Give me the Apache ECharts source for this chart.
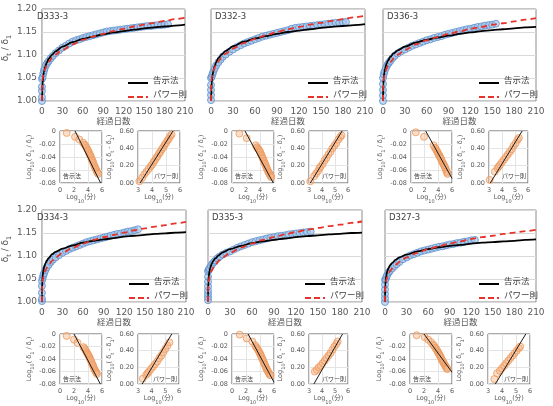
<!DOCTYPE html>
<html><head><meta charset="utf-8">
<script src="https://cdn.jsdelivr.net/npm/echarts/dist/echarts.min.js"></script>
<style>html,body{margin:0;padding:0;background:#fff}#c{width:553px;height:406px}</style>
</head><body><div id="c"></div>
<script>
// ---------- DATA ----------
const panelNames = ['D333-3','D332-3','D336-3','D334-3','D335-3','D327-3'];
const xTicksMain = [0,30,60,90,120,150,180,210];

// observed deflection ratio [days, δt/δ1]
const obsD333 = [[0,1.0],[0,1.008],[0,1.022],[0,1.031],[0,1.048],[1,1.052],[2,1.06],[3,1.066],[4,1.071],[6,1.078],[8,1.083],[10,1.087],[13,1.093],[16,1.098],[20,1.104],[25,1.11],[30,1.116],[35,1.12],[40,1.125],[45,1.129],[50,1.132],[55,1.134],[60,1.137],[65,1.139],[70,1.141],[75,1.143],[80,1.145],[85,1.147],[90,1.149],[95,1.151],[100,1.152],[105,1.153],[110,1.154],[115,1.155],[120,1.156],[125,1.157],[130,1.158],[135,1.159],[140,1.16],[145,1.161],[150,1.162],[155,1.163],[160,1.163],[165,1.164],[170,1.165],[175,1.165],[180,1.166],[185,1.167]];
const obsD332 = [[0,1.002],[0,1.013],[0,1.024],[0,1.035],[0,1.05],[1,1.053],[2,1.058],[3,1.063],[5,1.07],[7,1.077],[10,1.084],[13,1.09],[16,1.096],[20,1.101],[25,1.107],[30,1.112],[35,1.117],[40,1.121],[45,1.125],[50,1.128],[55,1.131],[60,1.134],[65,1.137],[70,1.14],[75,1.142],[80,1.144],[85,1.146],[90,1.148],[95,1.15],[100,1.152],[105,1.154],[110,1.157],[115,1.159],[120,1.16],[125,1.161],[130,1.162],[135,1.163],[140,1.164],[145,1.165],[150,1.166],[155,1.167],[160,1.168],[165,1.169],[170,1.17],[175,1.17],[180,1.171],[184,1.172]];
const obsD336 = [[0,1.0],[0,1.012],[0,1.024],[0,1.037],[0,1.05],[1,1.058],[2,1.064],[4,1.072],[6,1.078],[8,1.083],[10,1.087],[13,1.093],[16,1.098],[20,1.103],[25,1.108],[30,1.112],[35,1.116],[40,1.12],[45,1.123],[50,1.126],[55,1.129],[60,1.132],[65,1.134],[70,1.137],[75,1.139],[80,1.141],[85,1.144],[90,1.146],[95,1.148],[100,1.15],[105,1.152],[110,1.154],[115,1.156],[120,1.157],[125,1.159],[130,1.161],[135,1.162],[140,1.164],[145,1.165],[150,1.166],[155,1.168]];
const obsD334 = [[0,1.002],[0,1.007],[0,1.02],[0,1.035],[0,1.046],[1,1.052],[2,1.058],[3,1.062],[5,1.069],[7,1.075],[10,1.081],[13,1.087],[16,1.092],[20,1.097],[25,1.102],[30,1.107],[35,1.111],[40,1.115],[45,1.118],[50,1.121],[55,1.124],[60,1.127],[65,1.13],[70,1.132],[75,1.134],[80,1.136],[85,1.138],[90,1.14],[95,1.142],[100,1.144],[105,1.146],[110,1.148],[115,1.149],[120,1.151],[125,1.153],[130,1.154],[135,1.156],[140,1.158]];
const obsD335 = [[0,1.004],[0,1.011],[0,1.018],[0,1.025],[0,1.034],[0,1.044],[0,1.055],[0,1.067],[1,1.07],[2,1.073],[4,1.078],[6,1.083],[8,1.087],[10,1.09],[13,1.095],[16,1.099],[20,1.103],[25,1.107],[30,1.11],[35,1.114],[40,1.118],[45,1.121],[50,1.124],[55,1.127],[60,1.13],[65,1.132],[70,1.134],[75,1.136],[80,1.138],[85,1.14],[90,1.141],[95,1.143],[100,1.144],[105,1.145],[110,1.147],[115,1.148],[120,1.149],[125,1.15],[130,1.151],[135,1.152],[140,1.153]];
const obsD327 = [[0,1.0],[0,1.008],[0,1.017],[0,1.027],[0,1.038],[0,1.048],[1,1.05],[2,1.055],[3,1.058],[5,1.064],[7,1.068],[10,1.073],[13,1.078],[16,1.082],[20,1.087],[25,1.093],[30,1.097],[35,1.101],[40,1.104],[45,1.107],[50,1.11],[55,1.112],[60,1.114],[65,1.116],[70,1.118],[75,1.12],[80,1.121],[85,1.123],[90,1.125],[95,1.126],[100,1.128],[105,1.129],[110,1.131],[115,1.132],[120,1.134],[125,1.135]];

// 告示法 fitted curve [days, δt/δ1]
const kokujiD333 = [[0.15,1.0],[0.5,1.023],[1,1.039],[2,1.055],[3,1.064],[5,1.076],[7,1.083],[10,1.092],[15,1.101],[20,1.108],[30,1.118],[45,1.128],[60,1.135],[75,1.14],[90,1.145],[105,1.149],[120,1.152],[135,1.155],[150,1.158],[165,1.16],[180,1.162],[195,1.164],[210,1.166]];
const kokujiD332 = [[0.15,1.0],[0.5,1.024],[1,1.04],[2,1.055],[3,1.064],[5,1.076],[7,1.084],[10,1.093],[15,1.102],[20,1.109],[30,1.119],[45,1.129],[60,1.136],[75,1.141],[90,1.146],[105,1.15],[120,1.153],[135,1.156],[150,1.159],[165,1.161],[180,1.163],[195,1.165],[210,1.167]];
const kokujiD336 = [[0.07,1.0],[0.1,1.006],[0.5,1.037],[1,1.05],[2,1.063],[3,1.071],[5,1.082],[7,1.088],[10,1.096],[15,1.104],[20,1.11],[30,1.118],[45,1.127],[60,1.133],[75,1.138],[90,1.142],[105,1.146],[120,1.149],[135,1.152],[150,1.154],[165,1.156],[180,1.158],[195,1.16],[210,1.161]];
const kokujiD334 = [[0.035,1.0],[0.1,1.017],[0.5,1.044],[1,1.056],[2,1.068],[3,1.075],[5,1.084],[7,1.09],[10,1.096],[15,1.104],[20,1.109],[30,1.116],[45,1.123],[60,1.129],[75,1.133],[90,1.136],[105,1.139],[120,1.142],[135,1.144],[150,1.146],[165,1.148],[180,1.149],[195,1.151],[210,1.152]];
const kokujiD335 = [[0.035,1.0],[0.1,1.016],[0.5,1.043],[1,1.055],[2,1.067],[3,1.074],[5,1.083],[7,1.089],[10,1.095],[15,1.102],[20,1.108],[30,1.115],[45,1.122],[60,1.128],[75,1.132],[90,1.135],[105,1.138],[120,1.141],[135,1.143],[150,1.145],[165,1.147],[180,1.148],[195,1.15],[210,1.151]];
const kokujiD327 = [[0.043,1.0],[0.1,1.013],[0.5,1.038],[1,1.048],[2,1.059],[3,1.066],[5,1.074],[7,1.08],[10,1.085],[15,1.092],[20,1.097],[30,1.103],[45,1.11],[60,1.115],[75,1.119],[90,1.122],[105,1.124],[120,1.127],[135,1.129],[150,1.13],[165,1.132],[180,1.133],[195,1.135],[210,1.136]];

// パワー則 fitted curve [days, δt/δ1]
const powerD333 = [[0,1.0],[0.1,1.027],[0.5,1.04],[1,1.048],[2,1.057],[3,1.063],[5,1.071],[7,1.077],[10,1.085],[15,1.094],[20,1.101],[30,1.111],[45,1.123],[60,1.133],[75,1.14],[90,1.146],[105,1.152],[120,1.157],[135,1.162],[150,1.166],[165,1.17],[180,1.174],[195,1.178],[210,1.181]];
const powerD332 = [[0,1.0],[0.1,1.027],[0.5,1.041],[1,1.049],[2,1.058],[3,1.064],[5,1.073],[7,1.079],[10,1.086],[15,1.096],[20,1.103],[30,1.114],[45,1.126],[60,1.135],[75,1.143],[90,1.15],[105,1.156],[120,1.161],[135,1.166],[150,1.17],[165,1.174],[180,1.178],[195,1.182],[210,1.185]];
const powerD336 = [[0,1.0],[0.1,1.027],[0.5,1.04],[1,1.047],[2,1.056],[3,1.062],[5,1.071],[7,1.077],[10,1.084],[15,1.093],[20,1.1],[30,1.111],[45,1.123],[60,1.132],[75,1.139],[90,1.146],[105,1.151],[120,1.157],[135,1.161],[150,1.166],[165,1.169],[180,1.173],[195,1.177],[210,1.18]];
const powerD334 = [[0,1.0],[0.1,1.026],[0.5,1.038],[1,1.046],[2,1.054],[3,1.06],[5,1.068],[7,1.074],[10,1.081],[15,1.09],[20,1.097],[30,1.107],[45,1.118],[60,1.127],[75,1.135],[90,1.141],[105,1.146],[120,1.151],[135,1.156],[150,1.16],[165,1.164],[180,1.167],[195,1.171],[210,1.174]];
const powerD335 = [[0,1.0],[0.1,1.026],[0.5,1.038],[1,1.046],[2,1.054],[3,1.06],[5,1.068],[7,1.074],[10,1.081],[15,1.09],[20,1.097],[30,1.107],[45,1.118],[60,1.127],[75,1.135],[90,1.141],[105,1.147],[120,1.152],[135,1.157],[150,1.161],[165,1.165],[180,1.168],[195,1.172],[210,1.175]];
const powerD327 = [[0,1.0],[0.1,1.023],[0.5,1.035],[1,1.041],[2,1.049],[3,1.054],[5,1.062],[7,1.067],[10,1.073],[15,1.081],[20,1.087],[30,1.097],[45,1.107],[60,1.115],[75,1.121],[90,1.127],[105,1.132],[120,1.137],[135,1.141],[150,1.144],[165,1.148],[180,1.151],[195,1.154],[210,1.157]];

// small panels: 告示法 check  [Log10(min), Log10(δ1/δt)]
const kLogD333 = [[0.95,-0.003],[2.15,-0.009],[2.75,-0.013],[3.3,-0.018],[3.5,-0.021],[3.65,-0.023],[3.8,-0.026],[3.95,-0.029],[4.05,-0.031],[4.15,-0.034],[4.25,-0.036],[4.35,-0.038],[4.45,-0.041],[4.55,-0.044],[4.65,-0.046],[4.75,-0.049],[4.85,-0.052],[4.95,-0.055],[5.05,-0.057],[5.15,-0.059],[5.25,-0.062],[5.35,-0.064],[5.45,-0.066]];
const kLogD332 = [[1.05,-0.004],[2.1,-0.011],[3.4,-0.022],[3.55,-0.025],[3.7,-0.027],[3.85,-0.029],[3.95,-0.031],[4.05,-0.033],[4.15,-0.036],[4.25,-0.038],[4.35,-0.041],[4.45,-0.043],[4.55,-0.046],[4.65,-0.049],[4.75,-0.051],[4.85,-0.054],[4.95,-0.057],[5.05,-0.059],[5.15,-0.062],[5.25,-0.064],[5.35,-0.066],[5.45,-0.068],[5.55,-0.07],[5.62,-0.071]];
const kLogD336 = [[0.7,-0.002],[1.9,-0.009],[3.3,-0.022],[3.5,-0.026],[3.65,-0.028],[3.8,-0.031],[3.9,-0.033],[4.0,-0.035],[4.1,-0.037],[4.2,-0.039],[4.3,-0.041],[4.4,-0.043],[4.5,-0.046],[4.6,-0.048],[4.7,-0.05],[4.8,-0.052],[4.9,-0.054],[5.0,-0.056],[5.1,-0.059],[5.2,-0.062],[5.3,-0.064],[5.35,-0.066]];
const kLogD334 = [[0.95,-0.003],[2.0,-0.009],[2.5,-0.014],[3.35,-0.021],[3.5,-0.023],[3.65,-0.026],[3.8,-0.029],[3.9,-0.031],[4.0,-0.033],[4.1,-0.035],[4.2,-0.037],[4.3,-0.04],[4.4,-0.042],[4.5,-0.045],[4.6,-0.048],[4.7,-0.05],[4.8,-0.053],[4.9,-0.056],[5.0,-0.058],[5.1,-0.06],[5.2,-0.062],[5.28,-0.064]];
const kLogD335 = [[1.1,-0.001],[2.1,-0.007],[2.9,-0.012],[3.3,-0.018],[3.45,-0.021],[3.6,-0.023],[3.75,-0.026],[3.9,-0.029],[4.0,-0.031],[4.1,-0.034],[4.2,-0.036],[4.3,-0.039],[4.4,-0.041],[4.5,-0.044],[4.6,-0.047],[4.7,-0.049],[4.8,-0.052],[4.9,-0.055],[5.0,-0.057],[5.1,-0.059],[5.2,-0.061],[5.3,-0.063],[5.4,-0.065],[5.5,-0.066]];
const kLogD327 = [[0.95,-0.002],[2.1,-0.005],[2.6,-0.009],[3.0,-0.013],[3.3,-0.017],[3.45,-0.019],[3.6,-0.022],[3.75,-0.024],[3.9,-0.027],[4.0,-0.029],[4.1,-0.031],[4.2,-0.033],[4.3,-0.035],[4.4,-0.037],[4.5,-0.04],[4.6,-0.042],[4.7,-0.044],[4.8,-0.046],[4.9,-0.048],[5.0,-0.05],[5.1,-0.052],[5.2,-0.054],[5.3,-0.055],[5.35,-0.056]];
const kFitD333 = [[2.15,0],[5.8,-0.08]];
const kFitD332 = [[1.85,0],[5.9,-0.08]];
const kFitD336 = [[2.15,0],[6,-0.073]];
const kFitD334 = [[2.0,0],[5.77,-0.08]];
const kFitD335 = [[2.3,0],[6,-0.077]];
const kFitD327 = [[2.0,0],[6,-0.061]];

// small panels: パワー則 check  [Log10(min), Log10(δt-δ1)]
const pLogD333 = [[3.1,0.02],[3.3,0.06],[3.45,0.1],[3.6,0.13],[3.75,0.16],[3.9,0.19],[4.0,0.21],[4.1,0.24],[4.2,0.26],[4.3,0.29],[4.4,0.31],[4.5,0.34],[4.6,0.36],[4.7,0.39],[4.8,0.41],[4.9,0.44],[5.0,0.46],[5.1,0.49],[5.2,0.51],[5.3,0.54],[5.4,0.56]];
const pLogD332 = [[3.1,0.02],[3.4,0.08],[3.55,0.11],[3.7,0.14],[3.8,0.17],[3.9,0.19],[4.05,0.22],[4.2,0.26],[4.35,0.29],[4.5,0.33],[4.65,0.36],[4.8,0.4],[4.95,0.43],[5.1,0.46],[5.25,0.5],[5.4,0.53],[5.5,0.55]];
const pLogD336 = [[3.05,0.035],[3.45,0.13],[3.65,0.17],[3.75,0.19],[3.85,0.21],[4.0,0.24],[4.15,0.27],[4.3,0.3],[4.45,0.33],[4.6,0.36],[4.75,0.39],[4.9,0.43],[5.05,0.46],[5.2,0.5],[5.3,0.52]];
const pLogD334 = [[3.35,0.065],[3.6,0.11],[3.7,0.13],[3.8,0.15],[3.95,0.18],[4.1,0.21],[4.25,0.24],[4.4,0.27],[4.55,0.31],[4.7,0.34],[4.85,0.38],[5.0,0.42],[5.15,0.46],[5.3,0.5]];
const pLogD335 = [[3.45,0.15],[3.6,0.17],[3.75,0.2],[3.9,0.22],[4.05,0.25],[4.2,0.28],[4.35,0.31],[4.5,0.34],[4.65,0.37],[4.8,0.41],[4.95,0.45],[5.1,0.48],[5.2,0.51]];
const pLogD327 = [[3.45,0.06],[3.65,0.13],[3.85,0.16],[4.0,0.19],[4.15,0.22],[4.3,0.25],[4.45,0.28],[4.6,0.31],[4.75,0.34],[4.9,0.37],[5.05,0.4],[5.2,0.43],[5.3,0.45]];
const pFitD333 = [[3.15,0],[5.5,0.6]];
const pFitD332 = [[3.1,0],[5.55,0.6]];
const pFitD336 = [[3.1,0],[5.55,0.6]];
const pFitD334 = [[3.3,0],[5.47,0.6]];
const pFitD335 = [[3.37,0],[5.58,0.6]];
const pFitD327 = [[3.52,0],[5.7,0.6]];

// ---------- LAYOUT / STYLE ----------
const obsAll = [obsD333,obsD332,obsD336,obsD334,obsD335,obsD327];
const kokujiAll = [kokujiD333,kokujiD332,kokujiD336,kokujiD334,kokujiD335,kokujiD327];
const powerAll = [powerD333,powerD332,powerD336,powerD334,powerD335,powerD327];
const kLogAll = [kLogD333,kLogD332,kLogD336,kLogD334,kLogD335,kLogD327];
const kFitAll = [kFitD333,kFitD332,kFitD336,kFitD334,kFitD335,kFitD327];
const pLogAll = [pLogD333,pLogD332,pLogD336,pLogD334,pLogD335,pLogD327];
const pFitAll = [pFitD333,pFitD332,pFitD336,pFitD334,pFitD335,pFitD327];

const mainBox = [[33,9,152,92],[211,9,154,92],[383,9,153,92],[33,210,153,92],[208,210,154,92],[385,210,151,92]];
const boxL = [[60,131,42,52],[232,131,42,52],[411,131,41,52],[60,334,42,52],[232,334,42,52],[410,334,42,52]];
const boxR = [[138,131,42,52],[309,131,39,52],[489,131,39,52],[138,334,41,52],[309,334,39,52],[488,334,42,52]];

const FONT = "'DejaVu Sans','Noto Sans CJK JP',sans-serif";
const LBL = '#595959';
const BLACK_LINE = '#000000';
const RED_LINE = '#e8332b';
function richSub(n, s) {
  return {
    n: {fontSize: n, fontFamily: FONT, color: LBL, lineHeight: n + 3, verticalAlign: 'top'},
    s: {fontSize: s, fontFamily: FONT, color: LBL, lineHeight: s, verticalAlign: 'bottom'}
  };
}

const grids = [], xAxes = [], yAxes = [], series = [], graphics = [];

function addGrid(b, border) {
  grids.push({left: b[0], top: b[1], width: b[2], height: b[3], show: true,
    borderColor: border, borderWidth: 1, backgroundColor: 'transparent'});
  return grids.length - 1;
}

const orangeDot = {color: 'rgba(245,180,135,0.55)', borderColor: '#ee9a5c', borderWidth: 1};

for (let p = 0; p < 6; p++) {
  const b = mainBox[p];
  const gi = addGrid(b, '#8c8c8c');
  xAxes.push({gridIndex: gi, type: 'value', min: xTicksMain[0], max: xTicksMain[xTicksMain.length - 1], interval: 30,
    axisLine: {show: false}, axisTick: {show: false}, splitLine: {show: false},
    axisLabel: {fontSize: 9, color: LBL, margin: 6, fontFamily: FONT},
    name: '経過日数', nameLocation: 'middle', nameGap: 17,
    nameTextStyle: {fontSize: 8.5, color: LBL, fontFamily: FONT}});
  yAxes.push({gridIndex: gi, type: 'value', min: 1, max: 1.2, interval: 0.05,
    axisLine: {show: false}, axisTick: {show: false},
    splitLine: {show: true, lineStyle: {color: '#d9d9d9', width: 1}},
    axisLabel: {show: p % 3 === 0, fontSize: 9, color: LBL, margin: 5, fontFamily: FONT, formatter: v => v.toFixed(2)},
    name: p % 3 === 0 ? '{n|δ}{s|t}{n| / δ}{s|1}' : '', nameLocation: 'middle', nameGap: 23,
    nameTextStyle: {rich: richSub(9, 6.5), padding: [0, 0, 0, 14]}});
  series.push({type: 'scatter', xAxisIndex: gi, yAxisIndex: gi, data: obsAll[p], symbolSize: 7, z: 2,
    itemStyle: {color: 'rgba(163,196,232,0.85)', borderColor: '#5d8fcc', borderWidth: 1}, silent: true});
  series.push({type: 'line', name: '告示法', xAxisIndex: gi, yAxisIndex: gi, data: kokujiAll[p], symbol: 'none',
    smooth: 0.3, smoothMonotone: 'x', z: 4, lineStyle: {color: BLACK_LINE, width: 1.8}});
  series.push({type: 'line', name: 'パワー則', xAxisIndex: gi, yAxisIndex: gi, data: powerAll[p], symbol: 'none',
    smooth: 0.3, smoothMonotone: 'x', z: 5, lineStyle: {color: RED_LINE, width: 1.8, type: [6, 4]}});

  // legend (drawn as graphic keys)
  const lx = b[0] + b[2] - 57, ly = b[1] + 74;
  graphics.push({type: 'line', z: 100, shape: {x1: lx, y1: ly, x2: lx + 20, y2: ly},
    style: {stroke: BLACK_LINE, lineWidth: 2}});
  graphics.push({type: 'text', z: 100, left: lx + 25, top: ly - 6,
    style: {text: '告示法', fontSize: 8.5, fontFamily: FONT, fill: '#404040'}});
  graphics.push({type: 'line', z: 100, shape: {x1: lx, y1: ly + 14, x2: lx + 20, y2: ly + 14},
    style: {stroke: RED_LINE, lineWidth: 2, lineDash: [6, 3]}});
  graphics.push({type: 'text', z: 100, left: lx + 25, top: ly + 8,
    style: {text: 'パワー則', fontSize: 8.5, fontFamily: FONT, fill: '#404040'}});
  graphics.push({type: 'text', left: b[0] + 4, top: b[1] + 4, z: 100,
    style: {text: panelNames[p], fontSize: 8.5, fontFamily: FONT, fill: '#404040'}});

  // small left: 告示法
  const L = boxL[p];
  const li = addGrid(L, '#595959');
  xAxes.push({gridIndex: li, type: 'value', min: 0, max: 6, interval: 2,
    axisLine: {show: false}, axisTick: {show: false},
    splitLine: {show: true, lineStyle: {color: '#e4e4e4'}},
    axisLabel: {fontSize: 6.5, color: LBL, margin: 4, fontFamily: FONT},
    name: '{n|Log}{s|10}{n|(分)}', nameLocation: 'middle', nameGap: 11,
    nameTextStyle: {rich: richSub(6.5, 5)}});
  yAxes.push({gridIndex: li, type: 'value', min: -0.08, max: 0, interval: 0.02,
    axisLine: {show: false}, axisTick: {show: false},
    splitLine: {show: true, lineStyle: {color: '#e4e4e4'}},
    axisLabel: {fontSize: 6.5, color: LBL, margin: 4, fontFamily: FONT,
      formatter: v => Math.abs(v) < 1e-9 ? '0' : v.toFixed(2)},
    name: '{n|Log}{s|10}{n|( δ}{s|1}{n| / δ}{s|t}{n|)}', nameLocation: 'middle', nameGap: 20,
    nameTextStyle: {rich: richSub(6.5, 5)}});
  series.push({type: 'scatter', xAxisIndex: li, yAxisIndex: li, data: kLogAll[p], symbolSize: 7, z: 2, silent: true,
    itemStyle: orangeDot});
  series.push({type: 'line', xAxisIndex: li, yAxisIndex: li, data: kFitAll[p], symbol: 'none', z: 4, silent: true,
    lineStyle: {color: '#1a1a1a', width: 1}});
  graphics.push({type: 'text', left: L[0] + 3, top: L[1] + L[3] - 10, z: 100,
    style: {text: '告示法', fontSize: 6, fontFamily: FONT, fill: '#404040'}});

  // small right: パワー則
  const R = boxR[p];
  const ri = addGrid(R, '#595959');
  xAxes.push({gridIndex: ri, type: 'value', min: 3, max: 6, interval: 1,
    axisLine: {show: false}, axisTick: {show: false},
    splitLine: {show: true, lineStyle: {color: '#e4e4e4'}},
    axisLabel: {fontSize: 6.5, color: LBL, margin: 4, fontFamily: FONT},
    name: '{n|Log}{s|10}{n|(分)}', nameLocation: 'middle', nameGap: 11,
    nameTextStyle: {rich: richSub(6.5, 5)}});
  yAxes.push({gridIndex: ri, type: 'value', min: 0, max: 0.6, interval: 0.2,
    axisLine: {show: false}, axisTick: {show: false},
    splitLine: {show: true, lineStyle: {color: '#e4e4e4'}},
    axisLabel: {fontSize: 6.5, color: LBL, margin: 4, fontFamily: FONT, formatter: v => v.toFixed(2)},
    name: '{n|Log}{s|10}{n|( δ}{s|t}{n| - δ}{s|1}{n|)}', nameLocation: 'middle', nameGap: 19,
    nameTextStyle: {rich: richSub(6.5, 5)}});
  series.push({type: 'scatter', xAxisIndex: ri, yAxisIndex: ri, data: pLogAll[p], symbolSize: 7, z: 2, silent: true,
    itemStyle: orangeDot});
  series.push({type: 'line', xAxisIndex: ri, yAxisIndex: ri, data: pFitAll[p], symbol: 'none', z: 4, silent: true,
    lineStyle: {color: '#1a1a1a', width: 1}});
  graphics.push({type: 'text', right: 553 - (R[0] + R[2] - 2), top: R[1] + R[3] - 10, z: 100,
    style: {text: 'パワー則', fontSize: 6, fontFamily: FONT, fill: '#404040'}});
}

const chart = echarts.init(document.getElementById('c'), null, {renderer: 'canvas'});
chart.setOption({
  animation: false,
  backgroundColor: '#ffffff',
  textStyle: {fontFamily: FONT},
  grid: grids, xAxis: xAxes, yAxis: yAxes, series: series, graphic: graphics
});
</script></body></html>
